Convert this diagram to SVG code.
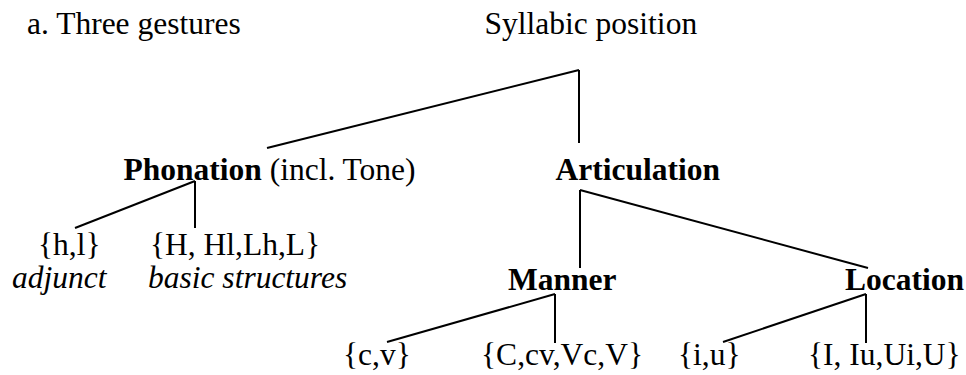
<svg xmlns="http://www.w3.org/2000/svg" width="966" height="375" viewBox="0 0 966 375">
<style>
text{font-family:"Liberation Serif","Times New Roman",serif;font-size:31.5px;fill:#000}
.b{font-weight:bold}
.i{font-style:italic}
.c line{stroke:#000;stroke-width:2;stroke-linecap:butt}
</style>
<rect width="966" height="375" fill="#fff"/>
<g id="title"><text x="27" y="33.5">a. Three gestures</text></g>
<g id="root"><text x="484.5" y="33.5">Syllabic position</text></g>
<g id="phonation"><text x="123.5" y="180"><tspan class="b">Phonation</tspan> (incl. Tone)</text></g>
<g id="articulation"><text class="b" x="555.5" y="180">Articulation</text></g>
<g id="adjunct"><text x="38" y="255">{h,l}</text><text class="i" x="12" y="288">adjunct</text></g>
<g id="basic"><text x="150" y="255">{H, Hl,Lh,L}</text><text class="i" x="148" y="288">basic structures</text></g>
<g id="manner"><text class="b" x="508" y="290">Manner</text></g>
<g id="location"><text class="b" x="845" y="290">Location</text></g>
<g id="cv"><text x="343" y="365">{c,v}</text></g>
<g id="CV"><text x="481" y="365">{C,cv,Vc,V}</text></g>
<g id="iu"><text x="678" y="365">{i,u}</text></g>
<g id="IU"><text x="808" y="365">{I, Iu,Ui,U}</text></g>
<g class="c" id="connectors">
<line x1="579" y1="70" x2="267" y2="148"/>
<line x1="579" y1="70" x2="579" y2="143"/>
<line x1="195" y1="181" x2="75" y2="228"/>
<line x1="195" y1="181" x2="195" y2="228"/>
<line x1="580" y1="190" x2="580" y2="268"/>
<line x1="580" y1="190" x2="868" y2="268"/>
<line x1="555" y1="294" x2="387" y2="342"/>
<line x1="555" y1="294" x2="555" y2="343"/>
<line x1="866" y1="294" x2="723" y2="342"/>
<line x1="866" y1="294" x2="866" y2="343"/>
</g>
</svg>
